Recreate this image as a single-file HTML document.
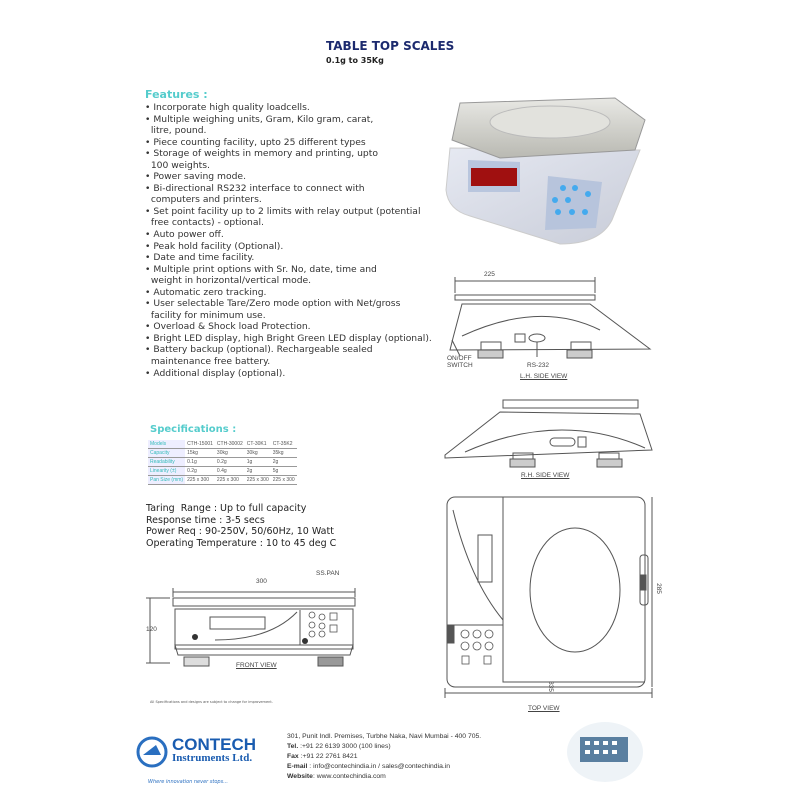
<!DOCTYPE html>
<html><head><meta charset="utf-8"><style>
body{margin:0;width:800px;height:800px;background:#fff;position:relative;overflow:hidden;font-family:"DejaVu Sans","Liberation Sans",sans-serif;}
.a{position:absolute;white-space:nowrap;}
#feat{position:absolute;left:145px;top:102px;font-size:9.2px;line-height:11.55px;color:#333;}
#spec td{border-bottom:1px solid #999;padding:0 2px;height:8px;font-size:5px;color:#555;}
#spec td:first-child{color:#3bb;background:#eef}
.s{font-family:"Liberation Sans",sans-serif;font-size:6.5px;color:#444;}
</style></head><body>
<svg width="800" height="800" style="position:absolute;left:0;top:0" fill="none" stroke="#555" stroke-width="1">
<defs><linearGradient id="pan" x1="0" y1="0" x2="0" y2="1"><stop offset="0" stop-color="#e8e8e4"/><stop offset="1" stop-color="#b9b9b2"/></linearGradient>
<linearGradient id="bd" x1="0" y1="0" x2="1" y2="1"><stop offset="0" stop-color="#e6e9f2"/><stop offset="1" stop-color="#c8ccd8"/></linearGradient></defs>
<path d="M450 148 L446 190 Q448 210 470 216 L560 244 Q600 244 612 220 L640 150 Z" fill="url(#bd)" stroke="#ccc"/>
<path d="M548 176 L602 182 L596 228 L545 230 Z" fill="#b7c4dc" stroke="none"/>
<path d="M468 160 L520 162 L520 192 L468 192 Z" fill="#b9c6de" stroke="none"/>
<rect x="471" y="168" width="46" height="18" fill="#a01010" stroke="none"/>
<path d="M460 103 L615 98 L645 120 L635 150 L500 158 L452 140 Z" fill="url(#pan)" stroke="#999"/>
<ellipse cx="550" cy="122" rx="60" ry="16" fill="#e2e2dd" stroke="#bbb"/>
<g fill="#4ae" stroke="none"><circle cx="563" cy="188" r="3"/><circle cx="575" cy="188" r="3"/><circle cx="588" cy="194" r="3"/><circle cx="555" cy="200" r="3"/><circle cx="568" cy="200" r="3"/><circle cx="558" cy="212" r="3"/><circle cx="572" cy="212" r="3"/><circle cx="585" cy="212" r="3"/></g>
<path d="M455 277 V293 M595 277 V293 M455 281 H595"/>
<rect x="455" y="295" width="140" height="5"/>
<path d="M453 338 L462 304 L590 304 L650 349 L450 350 Z"/>
<path d="M462 336 Q540 300 600 330"/>
<rect x="481" y="342" width="20" height="10"/><rect x="571" y="342" width="20" height="10"/>
<rect x="478" y="350" width="25" height="8" fill="#ccc"/><rect x="567" y="350" width="25" height="8" fill="#ccc"/>
<ellipse cx="537" cy="338" rx="8" ry="4"/><rect x="515" y="334" width="10" height="8"/>
<path d="M537 342 V357 M452 340 L460 356"/>
<rect x="503" y="400" width="135" height="8"/>
<path d="M445 455 L500 412 L640 414 L652 450 L445 458 Z"/>
<path d="M465 452 Q560 410 645 448"/>
<rect x="513" y="453" width="20" height="8"/><rect x="599" y="453" width="20" height="8"/>
<rect x="510" y="459" width="25" height="8" fill="#ccc"/><rect x="597" y="459" width="25" height="8" fill="#ccc"/>
<rect x="550" y="438" width="25" height="8" rx="4"/><rect x="578" y="437" width="8" height="10"/>
<path d="M150 598 V663 M146 598 H170 M146 663 H170"/>
<path d="M173 588 V597 M355 588 V597 M173 592 H355"/>
<rect x="173" y="598" width="182" height="8"/>
<rect x="175" y="609" width="178" height="40"/>
<path d="M175 645 H353 L350 655 H178 Z"/>
<rect x="210" y="617" width="55" height="12"/>
<path d="M215 640 Q270 640 297 612 M300 610 V645"/>
<g fill="#333" stroke="none"><circle cx="195" cy="637" r="3"/><circle cx="305" cy="641" r="3"/></g>
<g stroke-width=".8"><circle cx="312" cy="615" r="3"/><circle cx="322" cy="617" r="3"/><rect x="330" y="613" width="7" height="7"/><circle cx="312" cy="625" r="3"/><circle cx="322" cy="626" r="3"/><rect x="330" y="625" width="7" height="7"/><circle cx="312" cy="634" r="3"/><circle cx="322" cy="634" r="3"/></g>
<rect x="184" y="657" width="25" height="9" fill="#ddd"/><rect x="318" y="657" width="25" height="9" fill="#999"/>
<rect x="447" y="497" width="198" height="190" rx="8"/>
<path d="M503 497 V682 H645 M447 625 H503"/>
<ellipse cx="575" cy="590" rx="45" ry="62"/>
<path d="M453 510 Q470 580 503 620"/>
<rect x="478" y="535" width="14" height="47"/>
<rect x="640" y="555" width="8" height="50" rx="3"/>
<rect x="640" y="575" width="6" height="15" fill="#555"/>
<rect x="448" y="625" width="6" height="18" fill="#555"/>
<g stroke-width=".8"><circle cx="465" cy="634" r="4"/><circle cx="477" cy="634" r="4"/><circle cx="489" cy="634" r="4"/><circle cx="465" cy="646" r="4"/><circle cx="477" cy="646" r="4"/><circle cx="489" cy="646" r="4"/><rect x="462" y="656" width="7" height="8"/><rect x="484" y="656" width="7" height="8"/></g>
<path d="M445 693 H652 M445 688 V698 M652 688 V698 M652 497 V687"/>
<circle cx="152" cy="752" r="14" stroke="#2a6fc0" stroke-width="3"/>
<path d="M143 755 H161 L156 745 Z" fill="#2a6fc0" stroke="none"/>
<ellipse cx="605" cy="752" rx="38" ry="30" fill="#eef3f7" stroke="none"/>
<rect x="580" y="737" width="48" height="25" fill="#5a7fa0" stroke="none"/>
<g fill="#fff" stroke="none"><rect x="585" y="741" width="5" height="4"/><rect x="594" y="741" width="5" height="4"/><rect x="603" y="741" width="5" height="4"/><rect x="612" y="741" width="5" height="4"/><rect x="585" y="750" width="5" height="4"/><rect x="594" y="750" width="5" height="4"/><rect x="603" y="750" width="5" height="4"/><rect x="612" y="750" width="5" height="4"/></g>
</svg>

<div class="a" style="left:326px;top:39px;font:bold 12px 'DejaVu Sans',sans-serif;color:#1c2a6e">TABLE TOP SCALES</div>
<div class="a" style="left:326px;top:56px;font:bold 8px 'DejaVu Sans',sans-serif;color:#222">0.1g to 35Kg</div>
<div class="a" style="left:145px;top:88px;font:bold 11px 'DejaVu Sans',sans-serif;color:#5cc">Features :</div>
<div id="feat">• Incorporate high quality loadcells.<br>• Multiple weighing units, Gram, Kilo gram, carat,<br>&nbsp;&nbsp;litre, pound.<br>• Piece counting facility, upto 25 different types<br>• Storage of weights in memory and printing, upto<br>&nbsp;&nbsp;100 weights.<br>• Power saving mode.<br>• Bi-directional RS232 interface to connect with<br>&nbsp;&nbsp;computers and printers.<br>• Set point facility up to 2 limits with relay output (potential<br>&nbsp;&nbsp;free contacts) - optional.<br>• Auto power off.<br>• Peak hold facility (Optional).<br>• Date and time facility.<br>• Multiple print options with Sr. No, date, time and<br>&nbsp;&nbsp;weight in horizontal/vertical mode.<br>• Automatic zero tracking.<br>• User selectable Tare/Zero mode option with Net/gross<br>&nbsp;&nbsp;facility for minimum use.<br>• Overload &amp; Shock load Protection.<br>• Bright LED display, high Bright Green LED display (optional).<br>• Battery backup (optional). Rechargeable sealed<br>&nbsp;&nbsp;maintenance free battery.<br>• Additional display (optional).</div>
<div class="a" style="left:150px;top:424px;font:bold 10px 'DejaVu Sans',sans-serif;color:#5cc">Specifications :</div>
<table id="spec" class="a" style="left:148px;top:440px;border-collapse:collapse;font-family:'Liberation Sans',sans-serif">
<tr><td>Models</td><td>CTH-15001</td><td>CTH-30002</td><td>CT-30K1</td><td>CT-35K2</td></tr>
<tr><td>Capacity</td><td>15kg</td><td>30kg</td><td>30kg</td><td>35kg</td></tr>
<tr><td>Readability</td><td>0.1g</td><td>0.2g</td><td>1g</td><td>2g</td></tr>
<tr><td>Linearity (±)</td><td>0.2g</td><td>0.4g</td><td>2g</td><td>5g</td></tr>
<tr><td>Pan Size (mm)</td><td>225 x 300</td><td>225 x 300</td><td>225 x 300</td><td>225 x 300</td></tr></table>
<div class="a" style="left:146px;top:503px;font-size:9.5px;line-height:11.5px;color:#222">Taring&nbsp; Range : Up to full capacity<br>Response time : 3-5 secs<br>Power Req : 90-250V, 50/60Hz, 10 Watt<br>Operating Temperature : 10 to 45 deg C</div>

<div class="a s" style="left:484px;top:271px">225</div>
<div class="a s" style="left:447px;top:355px;line-height:7px">ON/OFF<br>SWITCH</div>
<div class="a s" style="left:527px;top:362px">RS-232</div>
<div class="a s" style="left:520px;top:373px;text-decoration:underline">L.H. SIDE VIEW</div>
<div class="a s" style="left:521px;top:472px;text-decoration:underline">R.H. SIDE VIEW</div>
<div class="a s" style="left:256px;top:578px">300</div>
<div class="a s" style="left:316px;top:570px">SS.PAN</div>
<div class="a s" style="left:146px;top:626px">120</div>
<div class="a s" style="left:236px;top:662px;text-decoration:underline">FRONT VIEW</div>
<div class="a s" style="left:653px;top:585px;transform:rotate(90deg)">285</div>
<div class="a s" style="left:545px;top:683px;transform:rotate(90deg)">335</div>
<div class="a s" style="left:528px;top:705px;text-decoration:underline">TOP VIEW</div>
<div class="a" style="left:150px;top:700px;font-size:3.5px;color:#555">All Specifications and designs are subject to change for improvement.</div>

<div class="a" style="left:172px;top:735px;font:bold 17px 'Liberation Sans',sans-serif;color:#1a5cb0">CONTECH</div>
<div class="a" style="left:172px;top:752px;font:bold 11px 'Liberation Serif',serif;color:#1a5cb0">Instruments Ltd.</div>
<div class="a" style="left:148px;top:779px;font-size:5px;font-style:italic;color:#2a6fc0">Where innovation never stops...</div>
<div class="a" style="left:287px;top:732px;font:6.8px/10px 'Liberation Sans',sans-serif;color:#333">301, Punit Indl. Premises, Turbhe Naka, Navi Mumbai - 400 705.<br><b>Tel.</b> :+91 22 6139 3000 (100 lines)<br><b>Fax</b> :+91 22 2761 8421<br><b>E-mail</b> : info@contechindia.in / sales@contechindia.in<br><b>Website</b>: www.contechindia.com</div>
</body></html>
